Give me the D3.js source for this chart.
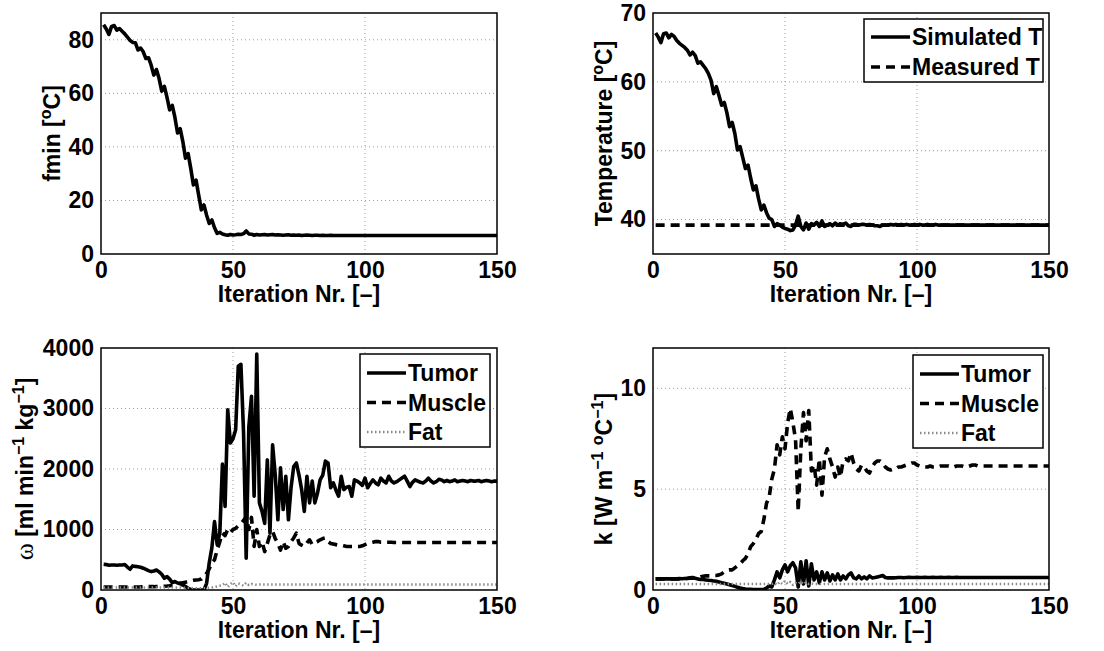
<!DOCTYPE html>
<html><head><meta charset="utf-8">
<script src="https://cdn.jsdelivr.net/npm/d3@7/dist/d3.min.js"></script>
<style>
body{margin:0;background:#fff;}
text{font-family:"Liberation Sans",Arial,Helvetica,sans-serif;font-weight:bold;fill:#000;}
</style>
</head><body>
<svg id="c" width="1104" height="651"></svg>
<script>
// ---------------- DATA ----------------
const xTicks = [0, 50, 100, 150];
const fminTicks = [0, 20, 40, 60, 80];
const tempTicks = [40, 50, 60, 70];
const omegaTicks = [0, 1000, 2000, 3000, 4000];
const kTicks = [0, 5, 10];

// fmin [°C] per iteration (1..150)
const fmin = [
85.6,84.0,82.0,85.0,85.3,83.6,84.2,83.2,82.2,81.0,
79.8,79.0,78.9,76.2,76.9,75.5,73.0,73.3,70.5,66.8,
68.9,65.5,60.8,62.6,58.5,53.8,55.5,51.0,45.2,46.8,
42.0,35.8,37.5,32.0,25.8,27.6,22.0,16.5,18.3,14.5,
11.4,12.7,9.8,7.7,8.1,7.5,7.2,7.0,7.3,7.1,
7.2,7.4,7.3,7.6,8.6,7.5,7.4,7.0,7.3,7.1,
7.2,7.3,7.1,7.2,7.3,7.1,7.2,7.1,7.0,7.1,
7.2,7.0,7.1,7.0,7.1,6.9,7.0,7.1,7.0,6.9,
7.0,7.0,6.9,7.0,6.9,6.9,7.0,6.9,6.9,6.9,
6.9,6.9,6.9,6.9,6.9,6.9,6.9,6.9,6.9,6.9,
6.9,6.9,6.9,6.9,6.9,6.9,6.9,6.9,6.9,6.9,
6.9,6.9,6.9,6.9,6.9,6.9,6.9,6.9,6.9,6.9,
6.9,6.9,6.9,6.9,6.9,6.9,6.9,6.9,6.9,6.9,
6.9,6.9,6.9,6.9,6.9,6.9,6.9,6.9,6.9,6.9,
6.9,6.9,6.9,6.9,6.9,6.9,6.9,6.9,6.9,6.9
];

// Simulated temperature [°C]
const simT = [
67.1,66.5,65.7,67.0,67.1,66.4,66.9,66.6,66.0,65.6,
65.3,65.0,64.6,63.9,64.3,63.8,62.7,62.9,62.4,61.9,
61.2,60.2,58.3,59.3,58.0,56.6,57.0,55.5,53.5,54.1,
52.5,50.1,50.6,49.0,47.4,47.9,46.0,44.3,44.9,43.0,
41.4,42.1,41.0,40.2,40.0,39.0,39.4,39.2,38.9,38.7,
38.6,38.4,38.5,39.2,40.5,39.0,38.5,39.5,38.6,39.4,
39.2,39.6,39.0,39.8,39.0,39.2,39.4,39.1,39.5,39.2,
39.4,39.3,39.5,39.1,39.0,39.3,39.3,39.2,39.3,39.3,
39.2,39.3,39.2,39.1,39.1,39.0,39.2,39.2,39.2,39.3,
39.2,39.3,39.2,39.3,39.2,39.3,39.2,39.2,39.3,39.2,
39.3,39.2,39.2,39.3,39.2,39.2,39.3,39.2,39.2,39.2,
39.2,39.2,39.2,39.2,39.2,39.2,39.2,39.2,39.2,39.2,
39.2,39.2,39.2,39.2,39.2,39.2,39.2,39.2,39.2,39.2,
39.2,39.2,39.2,39.2,39.2,39.2,39.2,39.2,39.2,39.2,
39.2,39.2,39.2,39.2,39.2,39.2,39.2,39.2,39.2,39.2
];
// Measured temperature (constant line, start/end iterations)
const measT = [[1, 39.2], [150, 39.2]];

// perfusion omega [ml min^-1 kg^-1]
const omegaTumor = [
425,420,410,414,414,410,414,414,420,380,
343,398,390,385,376,360,340,320,304,315,
331,300,260,193,221,180,122,140,115,110,
80,60,28,10,0,0,0,0,0,110,
450,700,1130,750,940,2080,1380,2980,2430,2500,
2650,3700,3730,2600,525,2700,3200,1550,3900,1440,
1300,1100,2150,940,2400,1900,1160,2020,1330,1880,
1160,1700,2040,2100,1900,1660,1300,1880,1440,1800,
1440,1600,1820,1900,2130,2100,1690,1770,1650,1550,
1880,1660,1700,1710,1550,1820,1800,1770,1730,1850,
1690,1760,1820,1770,1740,1850,1800,1770,1880,1800,
1770,1790,1820,1850,1880,1800,1710,1780,1820,1800,
1780,1770,1800,1850,1800,1770,1790,1830,1820,1790,
1810,1790,1800,1820,1790,1800,1810,1800,1790,1810,
1800,1800,1810,1790,1800,1810,1800,1790,1800,1800
];
const omegaMuscle = [
50,50,50,50,50,50,50,50,50,50,
50,50,50,50,52,55,55,55,55,55,
58,60,60,62,65,70,80,90,100,110,
120,130,140,150,160,165,170,180,220,275,
350,450,500,660,800,940,900,1000,950,1000,
1020,1060,1100,1150,1215,1000,1200,720,1000,720,
800,635,770,910,970,850,770,660,800,690,
720,800,860,940,770,740,720,780,830,750,
780,800,830,850,860,800,770,760,750,740,
740,730,720,720,720,720,720,720,730,750,
770,780,790,800,800,790,790,790,790,790,
785,785,785,785,785,785,785,785,785,785,
785,785,785,785,785,785,785,785,785,785,
785,785,785,785,785,785,785,785,785,785,
785,785,785,785,785,785,785,785,785,785
];
const omegaFat = [
40,40,40,40,40,40,40,40,40,40,
40,40,40,40,40,40,40,40,40,40,
40,40,40,40,40,40,40,40,40,40,
38,36,34,32,30,30,30,30,30,32,
36,40,50,60,70,80,120,50,100,130,
60,110,90,70,120,80,100,90,85,90,
90,90,90,90,90,90,90,90,90,90,
90,90,90,90,90,90,90,90,90,90,
90,90,90,90,90,90,90,90,90,90,
90,90,90,90,90,90,90,90,90,90,
90,90,90,90,90,90,90,90,90,90,
90,90,90,90,90,90,90,90,90,90,
90,90,90,90,90,90,90,90,90,90,
90,90,90,90,90,90,90,90,90,90,
90,90,90,90,90,90,90,90,90,90
];

// conductivity k [W m^-1 °C^-1]
const kTumor = [
0.55,0.55,0.56,0.55,0.55,0.56,0.55,0.55,0.56,0.57,
0.56,0.57,0.58,0.60,0.62,0.58,0.55,0.52,0.52,0.50,
0.48,0.47,0.45,0.43,0.40,0.36,0.33,0.30,0.26,0.22,
0.18,0.14,0.10,0.07,0.05,0.04,0.03,0.02,0.02,0.02,
0.02,0.03,0.10,0.20,0.15,0.50,0.90,0.60,1.00,1.25,
0.90,1.20,1.35,1.10,0.15,1.40,0.30,1.45,0.20,1.30,
0.50,0.90,0.35,0.90,0.50,0.85,0.45,0.75,0.50,0.80,
0.50,0.70,0.55,0.75,0.85,0.60,0.55,0.70,0.55,0.65,
0.55,0.70,0.60,0.62,0.65,0.68,0.72,0.62,0.60,0.60,
0.60,0.61,0.62,0.62,0.61,0.62,0.63,0.62,0.62,0.63,
0.62,0.62,0.63,0.62,0.62,0.63,0.62,0.62,0.63,0.62,
0.62,0.63,0.62,0.62,0.63,0.62,0.62,0.62,0.62,0.62,
0.62,0.62,0.62,0.62,0.62,0.62,0.62,0.62,0.62,0.62,
0.62,0.62,0.62,0.62,0.62,0.62,0.62,0.62,0.62,0.62,
0.62,0.62,0.62,0.62,0.62,0.62,0.62,0.62,0.62,0.62
];
const kMuscle = [
0.55,0.55,0.55,0.55,0.55,0.55,0.55,0.55,0.55,0.55,
0.55,0.56,0.57,0.58,0.58,0.60,0.62,0.66,0.68,0.70,
0.70,0.70,0.72,0.72,0.75,0.80,0.90,0.98,1.00,1.00,
1.10,1.20,1.30,1.45,1.57,1.80,2.15,2.30,2.50,2.80,
2.90,3.50,4.30,4.60,5.50,6.00,7.20,6.70,7.60,7.00,
8.30,9.00,8.30,7.45,3.90,7.00,8.80,7.40,8.90,5.90,
6.20,5.20,6.50,4.70,6.60,7.00,6.50,6.10,5.60,6.10,
5.60,6.40,6.50,6.40,6.80,6.30,6.00,5.90,6.20,6.10,
5.90,5.80,6.10,6.30,6.40,6.40,6.30,6.10,6.00,5.95,
6.00,6.00,6.10,6.10,6.15,6.20,6.25,6.30,6.30,6.20,
6.15,6.10,6.10,6.10,6.15,6.10,6.10,6.10,6.15,6.15,
6.15,6.15,6.10,6.10,6.15,6.15,6.15,6.10,6.10,6.15,
6.20,6.20,6.15,6.15,6.15,6.15,6.15,6.15,6.15,6.15,
6.15,6.15,6.15,6.15,6.15,6.15,6.15,6.15,6.15,6.15,
6.15,6.15,6.15,6.15,6.15,6.15,6.15,6.15,6.15,6.15
];
const kFat = [
0.30,0.30,0.30,0.30,0.30,0.30,0.30,0.30,0.30,0.30,
0.30,0.30,0.30,0.30,0.30,0.30,0.30,0.30,0.30,0.30,
0.30,0.30,0.30,0.30,0.30,0.30,0.30,0.30,0.30,0.30,
0.30,0.30,0.30,0.30,0.30,0.30,0.30,0.30,0.30,0.30,
0.30,0.30,0.30,0.30,0.30,0.35,0.25,0.40,0.30,0.45,
0.30,0.40,0.25,0.35,0.30,0.42,0.28,0.38,0.30,0.32,
0.30,0.30,0.30,0.30,0.30,0.30,0.30,0.30,0.30,0.30,
0.30,0.30,0.30,0.30,0.30,0.30,0.30,0.30,0.30,0.30,
0.30,0.30,0.30,0.30,0.30,0.30,0.30,0.30,0.30,0.30,
0.30,0.30,0.30,0.30,0.30,0.30,0.30,0.30,0.30,0.30,
0.30,0.30,0.30,0.30,0.30,0.30,0.30,0.30,0.30,0.30,
0.30,0.30,0.30,0.30,0.30,0.30,0.30,0.30,0.30,0.30,
0.30,0.30,0.30,0.30,0.30,0.30,0.30,0.30,0.30,0.30,
0.30,0.30,0.30,0.30,0.30,0.30,0.30,0.30,0.30,0.30,
0.30,0.30,0.30,0.30,0.30,0.30,0.30,0.30,0.30,0.30
];

// ---------------- DRAWING ----------------
const svg = d3.select("#c");
svg.append("rect").attr("width", 1104).attr("height", 651).attr("fill", "#fff");

const STY = {
  solid: {stroke: "#000", width: 3.6, dash: null},
  dashed: {stroke: "#000", width: 3.6, dash: "9,6"},
  dotted: {stroke: "#8a8a8a", width: 2.5, dash: "1.5,2.5"}
};
const FS = 22;
let clipId = 0;

function drawLabel(g, x, y, parts) {
  const t = g.append("text").attr("text-anchor", "middle")
    .attr("transform", `translate(${x},${y}) rotate(-90)`)
    .attr("font-size", FS + 1);
  let sup = false;
  parts.forEach(p => {
    const ts = t.append("tspan").text(p.t);
    const wantSup = !!p.sup;
    if (wantSup && !sup) ts.attr("dy", -9);
    if (!wantSup && sup) ts.attr("dy", 9);
    if (wantSup) ts.attr("font-size", 16);
    if (p.sym) ts.attr("font-family", "Liberation Serif, Times New Roman, serif").attr("font-weight", "normal").attr("font-size", 26);
    sup = wantSup;
  });
}

function panel(o) {
  const g = svg.append("g");
  const x = d3.scaleLinear().domain([0, 150]).range([o.l, o.r]);
  const y = d3.scaleLinear().domain(o.yDomain).range([o.b, o.t]);
  // grid
  const grid = g.append("g").attr("stroke", "#9a9a9a").attr("stroke-width", 1).attr("stroke-dasharray", "1,3");
  xTicks.filter(v => v > 0 && v < 150).forEach(v => {
    grid.append("line").attr("x1", x(v)).attr("x2", x(v)).attr("y1", o.t).attr("y2", o.b);
  });
  o.yTicks.filter(v => v > o.yDomain[0] && v < o.yDomain[1]).forEach(v => {
    grid.append("line").attr("x1", o.l).attr("x2", o.r).attr("y1", y(v)).attr("y2", y(v));
  });
  // axes (tick labels via d3 axis)
  const xa = g.append("g").attr("transform", `translate(0,${o.b})`)
    .call(d3.axisBottom(x).tickValues(xTicks).tickSize(0).tickPadding(8).tickFormat(d3.format("d")));
  xa.select(".domain").remove();
  xa.selectAll("text").attr("font-size", FS + 1).attr("font-family", null).attr("dy", "0.71em").attr("y", 8);
  const ya = g.append("g").attr("transform", `translate(${o.l},0)`)
    .call(d3.axisLeft(y).tickValues(o.yTicks).tickSize(0).tickPadding(7).tickFormat(d3.format("d")));
  ya.select(".domain").remove();
  ya.selectAll("text").attr("font-size", FS + 1).attr("font-family", null);
  g.selectAll(".tick text").attr("fill", "#000");
  // titles
  g.append("text").attr("x", (o.l + o.r) / 2).attr("y", o.b + 48).attr("text-anchor", "middle")
    .attr("font-size", FS + 1).text("Iteration Nr. [–]");
  drawLabel(g, o.labelX, (o.t + o.b) / 2, o.label);
  // clip
  const cid = "clip" + (clipId++);
  g.append("clipPath").attr("id", cid).append("rect")
    .attr("x", o.l).attr("y", o.t).attr("width", o.r - o.l).attr("height", o.b - o.t);
  const lg = g.append("g").attr("clip-path", `url(#${cid})`);
  o.series.forEach(s => {
    const st = STY[s.style];
    const pts = s.pts || s.data.map((v, i) => [i + 1, v]);
    lg.append("path").datum(pts)
      .attr("d", d3.line().x(d => x(d[0])).y(d => y(d[1])))
      .attr("fill", "none").attr("stroke", st.stroke).attr("stroke-width", st.width)
      .attr("stroke-dasharray", st.dash).attr("stroke-linejoin", "round");
  });
  // box
  g.append("rect").attr("x", o.l).attr("y", o.t).attr("width", o.r - o.l).attr("height", o.b - o.t)
    .attr("fill", "none").attr("stroke", "#000").attr("stroke-width", 1.5);
  // legend
  if (o.legend) {
    const L = o.legend;
    const lgd = g.append("g");
    lgd.append("rect").attr("x", L.x).attr("y", L.y).attr("width", L.w).attr("height", L.h)
      .attr("fill", "#fff").attr("stroke", "#000").attr("stroke-width", 1.5);
    L.items.forEach((it, i) => {
      const cy = L.y + L.pad + i * L.step;
      const st = STY[it.style];
      lgd.append("line").attr("x1", L.x + 7).attr("x2", L.x + 46).attr("y1", cy).attr("y2", cy)
        .attr("stroke", st.stroke).attr("stroke-width", st.width).attr("stroke-dasharray", st.dash);
      lgd.append("text").attr("x", L.x + 48).attr("y", cy + 8).attr("font-size", FS + 1).text(it.label);
    });
  }
}

const LX = [101, 497], RX = [653, 1049], TY = [13, 254], BY = [348, 590];

panel({l: LX[0], r: LX[1], t: TY[0], b: TY[1], yDomain: [0, 90], yTicks: fminTicks, labelX: 60,
  label: [{t: "fmin ["}, {t: "o", sup: true}, {t: "C]"}],
  series: [{data: fmin, style: "solid"}]});

panel({l: RX[0], r: RX[1], t: TY[0], b: TY[1], yDomain: [35, 70], yTicks: tempTicks, labelX: 612,
  label: [{t: "Temperature ["}, {t: "o", sup: true}, {t: "C]"}],
  series: [{data: simT, style: "solid"}, {pts: measT, style: "dashed"}],
  legend: {x: 864, y: 19, w: 179, h: 63, pad: 18, step: 30,
    items: [{label: "Simulated T", style: "solid"}, {label: "Measured T", style: "dashed"}]}});

panel({l: LX[0], r: LX[1], t: BY[0], b: BY[1], yDomain: [0, 4000], yTicks: omegaTicks, labelX: 33,
  label: [{t: "ω", sym: true}, {t: " [ml min"}, {t: "−1", sup: true}, {t: " kg"}, {t: "−1", sup: true}, {t: "]"}],
  series: [{data: omegaTumor, style: "solid"}, {data: omegaMuscle, style: "dashed"}, {data: omegaFat, style: "dotted"}],
  legend: {x: 360, y: 354, w: 130, h: 93, pad: 19, step: 29.5,
    items: [{label: "Tumor", style: "solid"}, {label: "Muscle", style: "dashed"}, {label: "Fat", style: "dotted"}]}});

panel({l: RX[0], r: RX[1], t: BY[0], b: BY[1], yDomain: [0, 12], yTicks: kTicks, labelX: 612,
  label: [{t: "k [W m"}, {t: "−1", sup: true}, {t: " "}, {t: "o", sup: true}, {t: "C"}, {t: "−1", sup: true}, {t: "]"}],
  series: [{data: kTumor, style: "solid"}, {data: kMuscle, style: "dashed"}, {data: kFat, style: "dotted"}],
  legend: {x: 913, y: 355, w: 130, h: 93, pad: 19, step: 29.5,
    items: [{label: "Tumor", style: "solid"}, {label: "Muscle", style: "dashed"}, {label: "Fat", style: "dotted"}]}});
</script>
</body></html>
